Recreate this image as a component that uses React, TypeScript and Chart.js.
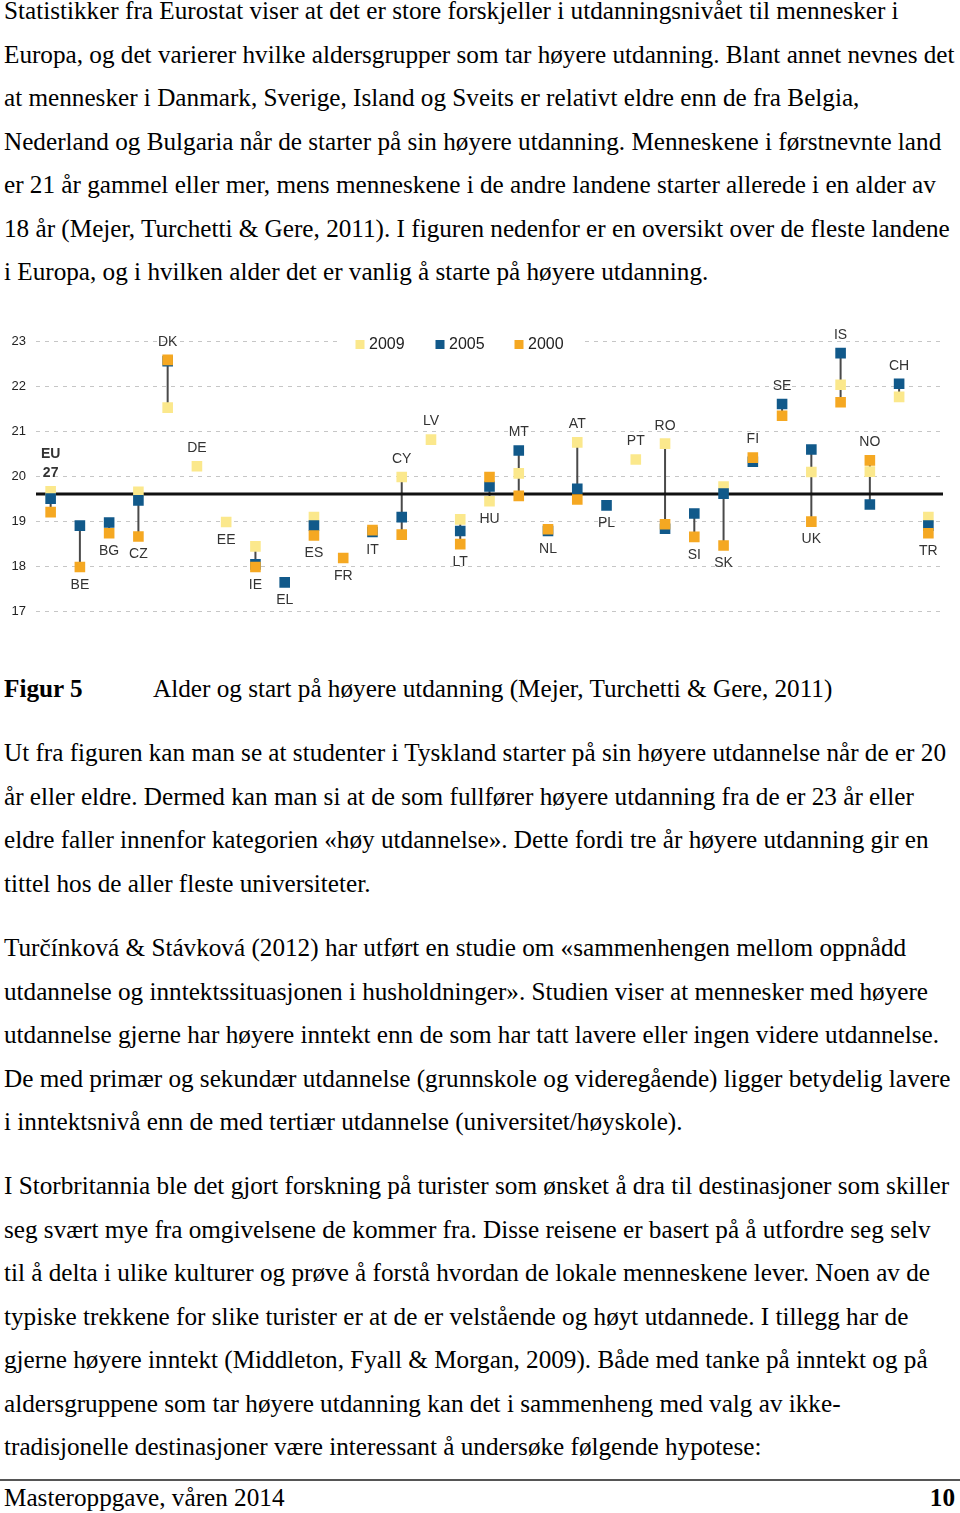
import React, { useEffect, useRef } from "react";
import { Chart, registerables } from "chart.js";

Chart.register(...registerables);

const categories = ["EU 27", "BE", "BG", "CZ", "DK", "DE", "EE", "IE", "EL", "ES", "FR", "IT", "CY", "LV", "LT", "HU", "MT", "NL", "AT", "PL", "PT", "RO", "SI", "SK", "FI", "SE", "UK", "IS", "NO", "CH", "TR"];

const values2009: (number | null)[] = [19.66, null, null, 19.65, 21.52, 20.22, 18.98, 18.44, null, 19.09, null, null, 19.98, 20.81, 19.04, 19.44, 20.06, null, 20.75, null, 20.37, 20.72, null, 19.77, null, null, 20.09, 22.03, 20.1, 21.76, 19.09];
const values2005: (number | null)[] = [19.5, 18.9, 18.97, 19.46, 22.55, null, null, 18.04, 17.64, 18.9, null, 18.76, 19.09, null, 18.78, 19.77, 20.57, 18.78, 19.72, 19.35, null, 18.83, 19.17, 19.61, 20.32, 21.6, 20.59, 22.73, 19.37, 22.05, 18.9];
const values2000: (number | null)[] = [19.2, 17.98, 18.73, 18.66, 22.58, null, null, 17.98, null, 18.68, 18.18, 18.8, 18.7, null, 18.49, 19.98, 19.56, 18.82, 19.48, null, null, 18.93, 18.65, 18.46, 20.41, 21.34, 18.99, 21.64, 20.35, null, 18.73];

const labelSide = ["above", "below", "below", "below", "above", "above", "below", "below", "below", "below", "below", "below", "above", "above", "below", "below", "above", "below", "above", "below", "above", "above", "below", "below", "above", "above", "below", "above", "above", "above", "below"];

const euAverage = 19.6;
const yTicks = [17, 18, 19, 20, 21, 22, 23];
const seriesNames = ["2009", "2005", "2000"];

const COLORS = ["#FBE88C", "#11598A", "#F5A822"];

const para1 = [
  "Statistikker fra Eurostat viser at det er store forskjeller i utdanningsnivået til mennesker i",
  "Europa, og det varierer hvilke aldersgrupper som tar høyere utdanning. Blant annet nevnes det",
  "at mennesker i Danmark, Sverige, Island og Sveits er relativt eldre enn de fra Belgia,",
  "Nederland og Bulgaria når de starter på sin høyere utdanning. Menneskene i førstnevnte land",
  "er 21 år gammel eller mer, mens menneskene i de andre landene starter allerede i en alder av",
  "18 år (Mejer, Turchetti & Gere, 2011). I figuren nedenfor er en oversikt over de fleste landene",
  "i Europa, og i hvilken alder det er vanlig å starte på høyere utdanning.",
];
const para2 = [
  "Ut fra figuren kan man se at studenter i Tyskland starter på sin høyere utdannelse når de er 20",
  "år eller eldre. Dermed kan man si at de som fullfører høyere utdanning fra de er 23 år eller",
  "eldre faller innenfor kategorien «høy utdannelse». Dette fordi tre år høyere utdanning gir en",
  "tittel hos de aller fleste universiteter.",
];
const para3 = [
  "Turčínková & Stávková (2012) har utført en studie om «sammenhengen mellom oppnådd",
  "utdannelse og inntektssituasjonen i husholdninger». Studien viser at mennesker med høyere",
  "utdannelse gjerne har høyere inntekt enn de som har tatt lavere eller ingen videre utdannelse.",
  "De med primær og sekundær utdannelse (grunnskole og videregående) ligger betydelig lavere",
  "i inntektsnivå enn de med tertiær utdannelse (universitet/høyskole).",
];
const para4 = [
  "I Storbritannia ble det gjort forskning på turister som ønsket å dra til destinasjoner som skiller",
  "seg svært mye fra omgivelsene de kommer fra. Disse reisene er basert på å utfordre seg selv",
  "til å delta i ulike kulturer og prøve å forstå hvordan de lokale menneskene lever. Noen av de",
  "typiske trekkene for slike turister er at de er velstående og høyt utdannede. I tillegg har de",
  "gjerne høyere inntekt (Middleton, Fyall & Morgan, 2009). Både med tanke på inntekt og på",
  "aldersgruppene som tar høyere utdanning kan det i sammenheng med valg av ikke-",
  "tradisjonelle destinasjoner være interessant å undersøke følgende hypotese:",
];
const captionLabel = "Figur 5";
const captionText = "Alder og start på høyere utdanning (Mejer, Turchetti & Gere, 2011)";
const footerLeft = "Masteroppgave, våren 2014";
const footerRight = "10";

const FONT = "'Liberation Serif', 'Times New Roman', serif";
const SANS = "'Liberation Sans', Arial, sans-serif";
const LINE_STEP = 43.5;
const FS = 25.2;
const LH = 22;

const lineStyle = (top: number): React.CSSProperties => ({
  position: "absolute",
  top: top - LH / 2,
  height: LH,
  lineHeight: LH + "px",
  fontSize: FS,
  fontFamily: FONT,
  whiteSpace: "nowrap",
  color: "#000",
});

function Lines({ lines, start }: { lines: string[]; start: number }) {
  return (
    <>
      {lines.map((t, i) => (
        <div key={i} style={{ ...lineStyle(start + i * LINE_STEP), left: 4 }}>
          {t}
        </div>
      ))}
    </>
  );
}

const overlayPlugin = {
  id: "overlay",
  beforeDatasetsDraw(chart: any) {
    const { ctx, chartArea, scales } = chart;
    const x = scales.x;
    const y = scales.y;
    ctx.save();
    ctx.strokeStyle = "#4a4a4a";
    ctx.lineWidth = 2;
    categories.forEach((_, i) => {
      const vals = [values2009[i], values2005[i], values2000[i]].filter((v) => v !== null) as number[];
      if (vals.length < 2) return;
      const mn = Math.min(...vals);
      const mx = Math.max(...vals);
      const px = x.getPixelForValue(i);
      ctx.beginPath();
      ctx.moveTo(px, y.getPixelForValue(mn));
      ctx.lineTo(px, y.getPixelForValue(mx));
      ctx.stroke();
    });
    ctx.strokeStyle = "#111";
    ctx.lineWidth = 3;
    const ay = y.getPixelForValue(euAverage);
    ctx.beginPath();
    ctx.moveTo(chartArea.left, ay);
    ctx.lineTo(chartArea.right, ay);
    ctx.stroke();
    ctx.restore();
  },
  afterDraw(chart: any) {
    const { ctx, scales } = chart;
    const x = scales.x;
    const y = scales.y;
    ctx.save();
    ctx.fillStyle = "#333";
    ctx.textAlign = "center";
    ctx.textBaseline = "middle";
    categories.forEach((c, i) => {
      const vals = [values2009[i], values2005[i], values2000[i]].filter((v) => v !== null) as number[];
      const mn = Math.min(...vals);
      const mx = Math.max(...vals);
      const px = x.getPixelForValue(i);
      const parts = c.split(" ");
      ctx.font = parts.length > 1 ? `bold 14px ${SANS}` : `14px ${SANS}`;
      if (labelSide[i] === "above") {
        const base = y.getPixelForValue(mx) - 18;
        parts.slice().reverse().forEach((p, k) => ctx.fillText(p, px, base - k * 19));
      } else {
        const base = y.getPixelForValue(mn) + 18;
        parts.forEach((p, k) => ctx.fillText(p, px, base + k * 19));
      }
    });
    ctx.fillStyle = "#fff";
    ctx.fillRect(342, 14, 240, 22);
    const lx = [360, 440, 519];
    ctx.font = `16px ${SANS}`;
    ctx.textAlign = "left";
    seriesNames.forEach((n, k) => {
      ctx.fillStyle = COLORS[k];
      ctx.fillRect(lx[k] - 4.5, 20, 9, 9);
      ctx.fillStyle = "#222";
      ctx.fillText(n, lx[k] + 9, 25);
    });
    ctx.restore();
  },
};

function ChartBox() {
  const ref = useRef<HTMLCanvasElement | null>(null);
  useEffect(() => {
    if (!ref.current) return;
    const mk = (data: (number | null)[], k: number, order: number) => ({
      label: seriesNames[k],
      data,
      showLine: false,
      pointStyle: "rect",
      pointRadius: 7.5,
      pointHoverRadius: 7.5,
      pointBorderWidth: 0,
      backgroundColor: COLORS[k],
      borderColor: COLORS[k],
      order,
    });
    const chart = new Chart(ref.current, {
      type: "line",
      data: {
        labels: categories,
        datasets: [mk(values2009, 0, 3), mk(values2005, 1, 2), mk(values2000, 2, 1)],
      },
      options: {
        animation: false,
        responsive: false,
        layout: { padding: { top: 21, bottom: 0, left: 0, right: 17 } },
        plugins: { legend: { display: false }, tooltip: { enabled: false } },
        scales: {
          x: { type: "category", offset: true, display: false },
          y: {
            min: 17,
            max: 23,
            afterFit: (s: any) => {
              s.width = 36;
            },
            afterBuildTicks: (s: any) => {
              s.ticks = yTicks.map((v) => ({ value: v }));
            },
            border: { display: false, dash: [4, 5] },
            grid: { color: "#c6c6c6", lineWidth: 1, drawTicks: false },
            ticks: { padding: 10, color: "#222", font: { family: SANS, size: 13 } },
          },
        },
      } as any,
      plugins: [overlayPlugin],
    });
    return () => chart.destroy();
  }, []);
  return <canvas ref={ref} width={960} height={309} style={{ position: "absolute", left: 0, top: 320, width: 960, height: 309 }} />;
}

export default function App() {
  return (
    <div style={{ position: "absolute", left: 0, top: 0, width: 960, height: 1513, overflow: "hidden", background: "#fff" }}>
      <Lines lines={para1} start={11} />
      <ChartBox />
      <div style={{ ...lineStyle(689), left: 4, fontWeight: "bold" }}>{captionLabel}</div>
      <div style={{ ...lineStyle(689), left: 153 }}>{captionText}</div>
      <Lines lines={para2} start={753} />
      <Lines lines={para3} start={948} />
      <Lines lines={para4} start={1186} />
      <div style={{ position: "absolute", left: 0, top: 1479, width: 960, height: 2, background: "#555" }} />
      <div style={{ ...lineStyle(1498), left: 4 }}>{footerLeft}</div>
      <div style={{ ...lineStyle(1498), right: 5, fontWeight: "bold" }}>{footerRight}</div>
    </div>
  );
}
